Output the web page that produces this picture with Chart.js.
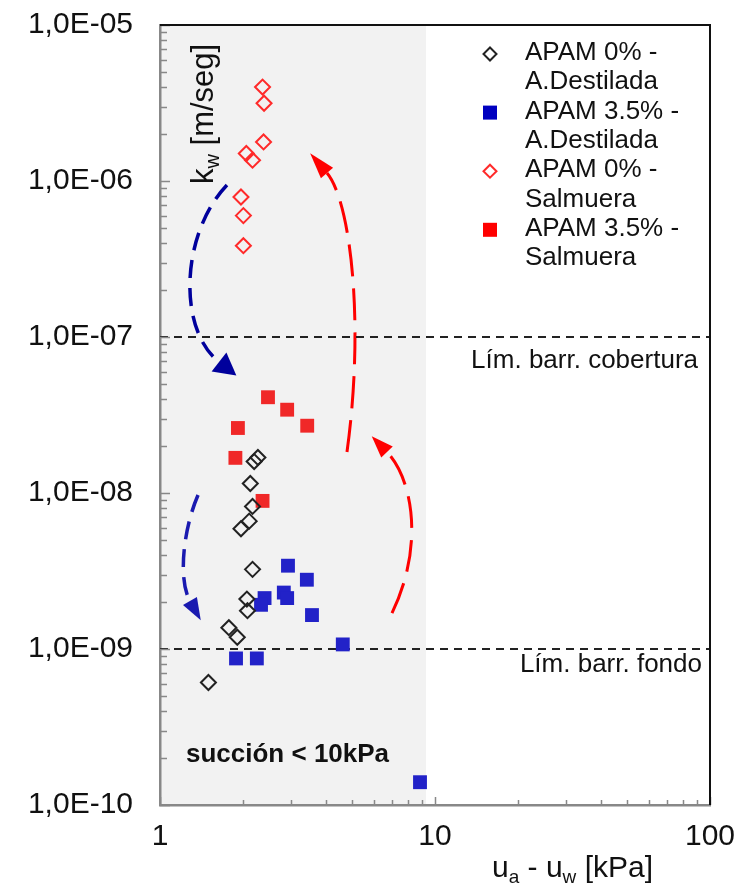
<!DOCTYPE html>
<html>
<head>
<meta charset="utf-8">
<script src="https://cdn.jsdelivr.net/npm/chart.js@4.4.1/dist/chart.umd.min.js"></script>
<style>
  html, body { margin: 0; padding: 0; background: #fff; }
  canvas { display: block; }
</style>
</head>
<body>
<canvas id="chart" width="753" height="886"></canvas>
<script>
// datos (succion kPa vs kw m/seg)
const apam0DestX = [2.27, 2.20, 2.13, 2.17, 2.11, 1.97, 2.17, 2.07, 2.08, 1.78, 1.91, 1.50];
const apam0DestY = [1.69e-8, 1.59e-8, 1.15e-8, 8.2e-9, 6.6e-9, 5.9e-9, 3.24e-9, 2.09e-9, 1.76e-9, 1.37e-9, 1.19e-9, 6.1e-10];

const apam35DestX = [2.92, 3.42, 2.40, 2.82, 2.90, 2.33, 3.57, 4.62, 1.89, 2.25, 8.82];
const apam35DestY = [3.42e-9, 2.78e-9, 2.12e-9, 2.30e-9, 2.12e-9, 1.92e-9, 1.65e-9, 1.07e-9, 8.7e-10, 8.7e-10, 1.40e-10];

const apam0SalX = [2.36, 2.39, 2.38, 2.06, 2.17, 1.97, 2.01, 2.01];
const apam0SalY = [4.0e-6, 3.15e-6, 1.78e-6, 1.5e-6, 1.36e-6, 7.9e-7, 6.0e-7, 3.85e-7];

const apam35SalX = [2.47, 2.90, 3.43, 1.92, 1.88, 2.36];
const apam35SalY = [4.11e-8, 3.42e-8, 2.70e-8, 2.61e-8, 1.68e-8, 8.9e-9];

const seriesNames = [
  ['APAM 0% -', 'A.Destilada'],
  ['APAM 3.5% -', 'A.Destilada'],
  ['APAM 0% -', 'Salmuera'],
  ['APAM 3.5% -', 'Salmuera']
];

const xTickValues = [1, 10, 100];
const xTickLabels = ['1', '10', '100'];
const yTickValues = [1e-10, 1e-9, 1e-8, 1e-7, 1e-6, 1e-5];
const yTickLabels = ['1,0E-10', '1,0E-09', '1,0E-08', '1,0E-07', '1,0E-06', '1,0E-05'];

// limites de barrera
const limCobertura = 1e-7;
const limFondo = 1e-9;
const shadeMaxX = 9.27;

// flechas (puntos de control en unidades de los ejes)
const arrowBlueTopX = [1.752, 1.182, 1.163, 1.639];
const arrowBlueTopY = [9.43e-7, 4.51e-7, 1.109e-7, 6.92e-8];
const arrowBlueLowX = [1.375, 1.212, 1.163, 1.285];
const arrowBlueLowY = [9.71e-9, 5.79e-9, 2.77e-9, 2.03e-9];
const arrowRedTopX = [4.786, 5.567, 4.909, 4.048];
const arrowRedTopY = [1.83e-8, 1.285e-7, 7.55e-7, 1.125e-6];
const arrowRedLowX = [6.976, 9.197, 8.249, 6.69];
const arrowRedLowY = [1.70e-9, 4.64e-9, 1.247e-8, 1.83e-8];

const FONT = '"Liberation Sans", Arial, sans-serif';

function toPoints(xs, ys) {
  return xs.map((x, i) => ({ x: x, y: ys[i] }));
}

function drawArrow(ctx, xs, ys, sx, sy, color, dash, width, headLen, headHalf) {
  const p = xs.map((v, i) => ({ x: sx.getPixelForValue(v), y: sy.getPixelForValue(ys[i]) }));
  ctx.save();
  ctx.strokeStyle = color;
  ctx.fillStyle = color;
  ctx.lineWidth = width;
  ctx.setLineDash(dash);
  ctx.beginPath();
  ctx.moveTo(p[0].x, p[0].y);
  ctx.bezierCurveTo(p[1].x, p[1].y, p[2].x, p[2].y, p[3].x, p[3].y);
  ctx.stroke();
  ctx.setLineDash([]);
  let dx = p[3].x - p[2].x, dy = p[3].y - p[2].y;
  const len = Math.hypot(dx, dy);
  dx /= len; dy /= len;
  const tipX = p[3].x + dx * headLen, tipY = p[3].y + dy * headLen;
  ctx.beginPath();
  ctx.moveTo(tipX, tipY);
  ctx.lineTo(p[3].x - dy * headHalf, p[3].y + dx * headHalf);
  ctx.lineTo(p[3].x + dy * headHalf, p[3].y - dx * headHalf);
  ctx.closePath();
  ctx.fill();
  ctx.restore();
}

const extras = {
  id: 'extras',
  beforeDraw(chart) {
    const { ctx, chartArea: a, scales: { x } } = chart;
    const x0 = x.getPixelForValue(1), x1 = x.getPixelForValue(shadeMaxX);
    ctx.save();
    ctx.fillStyle = '#f2f2f2';
    ctx.fillRect(x0, a.top, x1 - x0, a.bottom - a.top);
    ctx.restore();
  },
  beforeDatasetsDraw(chart) {
    const { ctx, scales: { x, y } } = chart;
    drawArrow(ctx, arrowBlueTopX, arrowBlueTopY, x, y, '#00009c', [18, 10], 3.5, 22, 12);
    drawArrow(ctx, arrowBlueLowX, arrowBlueLowY, x, y, '#1a1ab0', [18, 10], 3.5, 22, 8);
    drawArrow(ctx, arrowRedTopX, arrowRedTopY, x, y, '#ff0000', [32, 12], 3, 26, 8);
    drawArrow(ctx, arrowRedLowX, arrowRedLowY, x, y, '#ff0000', [32, 12], 3, 22, 8);
  },
  afterDraw(chart) {
    const { ctx, chartArea: a, scales: { x, y } } = chart;
    ctx.save();

    // marcas interiores de los ejes
    ctx.strokeStyle = '#888';
    ctx.lineWidth = 1.5;
    ctx.beginPath();
    for (let e = -10; e <= -5; e++) {
      for (let k = 1; k <= 9; k++) {
        const v = k * Math.pow(10, e);
        if (v > 1.0001e-5) break;
        const py = Math.round(y.getPixelForValue(v)) + 0.5;
        ctx.moveTo(a.left, py);
        ctx.lineTo(a.left + (k === 1 ? 10 : 7), py);
      }
    }
    for (let e = 0; e <= 2; e++) {
      for (let k = 1; k <= 9; k++) {
        const v = k * Math.pow(10, e);
        if (v > 100.01) break;
        const px = Math.round(x.getPixelForValue(v)) + 0.5;
        ctx.moveTo(px, a.bottom);
        ctx.lineTo(px, a.bottom - (k === 1 ? 8 : 5));
      }
    }
    ctx.stroke();

    // marco superior y derecho
    ctx.strokeStyle = '#111';
    ctx.lineWidth = 2;
    ctx.beginPath();
    ctx.moveTo(a.left, a.top);
    ctx.lineTo(a.right, a.top);
    ctx.lineTo(a.right, a.bottom);
    ctx.stroke();

    ctx.fillStyle = '#111';
    ctx.textBaseline = 'alphabetic';

    // titulo eje y
    ctx.save();
    ctx.translate(213, 184);
    ctx.rotate(-Math.PI / 2);
    ctx.textAlign = 'left';
    ctx.font = '31px ' + FONT;
    ctx.fillText('k', 0, 0);
    let w = ctx.measureText('k').width;
    ctx.font = '20px ' + FONT;
    ctx.fillText('w', w, 6);
    w += ctx.measureText('w').width;
    ctx.font = '31px ' + FONT;
    ctx.fillText(' [m/seg]', w, 0);
    ctx.restore();

    // titulo eje x
    let cx = 492;
    const by = 877;
    const parts = [['u', 30, 0], ['a', 19, 6], [' - u', 30, 0], ['w', 19, 6], [' [kPa]', 30, 0]];
    ctx.textAlign = 'left';
    parts.forEach(([t, s, off]) => {
      ctx.font = s + 'px ' + FONT;
      ctx.fillText(t, cx, by + off);
      cx += ctx.measureText(t).width;
    });

    // etiquetas de limites
    ctx.textAlign = 'right';
    ctx.font = '26px ' + FONT;
    ctx.fillText('Lím. barr. cobertura', 698, 368);
    ctx.fillText('Lím. barr. fondo', 702, 672);

    // zona de succion
    ctx.textAlign = 'left';
    ctx.font = 'bold 26px ' + FONT;
    ctx.fillText('succión < 10kPa', 186, 762);

    // leyenda
    const ds = chart.data.datasets;
    ctx.font = '26px ' + FONT;
    ctx.textBaseline = 'middle';
    let ly = 53;
    seriesNames.forEach((lines, i) => {
      const d = ds[i];
      const mx = 490, my = ly + 1;
      if (d.pointStyle === 'rect') {
        ctx.fillStyle = d.legendColor;
        ctx.fillRect(mx - 7, my - 7, 14, 14);
      } else {
        ctx.strokeStyle = d.borderColor;
        ctx.lineWidth = 2;
        ctx.beginPath();
        ctx.moveTo(mx, my - 6.5);
        ctx.lineTo(mx + 6.5, my);
        ctx.lineTo(mx, my + 6.5);
        ctx.lineTo(mx - 6.5, my);
        ctx.closePath();
        ctx.stroke();
      }
      ctx.fillStyle = '#111';
      lines.forEach((t) => {
        ctx.fillText(t, 525, ly);
        ly += 29.3;
      });
    });

    ctx.restore();
  }
};

const chartCanvas = document.getElementById('chart');

const chart = new Chart(chartCanvas, {
  type: 'scatter',
  data: {
    datasets: [
      {
        label: 'APAM 0% - A.Destilada',
        data: toPoints(apam0DestX, apam0DestY),
        pointStyle: 'rectRot',
        pointRadius: 7.5,
        backgroundColor: 'rgba(0,0,0,0)',
        borderColor: '#222',
        borderWidth: 2,
        order: 1
      },
      {
        label: 'APAM 3.5% - A.Destilada',
        data: toPoints(apam35DestX, apam35DestY),
        pointStyle: 'rect',
        pointRadius: 9.8,
        backgroundColor: '#2222c8',
        borderWidth: 0,
        legendColor: '#0000c0',
        order: 1
      },
      {
        label: 'APAM 0% - Salmuera',
        data: toPoints(apam0SalX, apam0SalY),
        pointStyle: 'rectRot',
        pointRadius: 7.5,
        backgroundColor: 'rgba(0,0,0,0)',
        borderColor: '#ff2a2a',
        borderWidth: 2,
        order: 1
      },
      {
        label: 'APAM 3.5% - Salmuera',
        data: toPoints(apam35SalX, apam35SalY),
        pointStyle: 'rect',
        pointRadius: 9.8,
        backgroundColor: '#f02828',
        borderWidth: 0,
        legendColor: '#ff0000',
        order: 1
      },
      {
        label: 'Lím. barr. cobertura',
        data: [{ x: 1, y: limCobertura }, { x: 100, y: limCobertura }],
        showLine: true,
        pointRadius: 0,
        borderColor: '#222',
        borderWidth: 2,
        borderDash: [8, 6],
        order: 2
      },
      {
        label: 'Lím. barr. fondo',
        data: [{ x: 1, y: limFondo }, { x: 100, y: limFondo }],
        showLine: true,
        pointRadius: 0,
        borderColor: '#222',
        borderWidth: 2,
        borderDash: [8, 6],
        order: 2
      }
    ]
  },
  options: {
    responsive: false,
    animation: false,
    events: [],
    layout: { padding: { top: 25, right: 43, left: 0, bottom: 0 } },
    plugins: {
      legend: { display: false },
      tooltip: { enabled: false }
    },
    scales: {
      x: {
        type: 'logarithmic',
        position: 'bottom',
        min: 1,
        max: 100,
        grid: { display: false, drawTicks: false },
        border: { display: true, color: '#888', width: 2.5 },
        afterBuildTicks: (s) => { s.ticks = xTickValues.map((v) => ({ value: v })); },
        afterFit: (s) => { s.height = 81; s.paddingLeft = 0; s.paddingRight = 0; },
        ticks: {
          autoSkip: false,
          maxRotation: 0,
          padding: 14,
          color: '#111',
          font: { family: FONT, size: 30 },
          callback: (v, i) => xTickLabels[i]
        }
      },
      y: {
        type: 'logarithmic',
        position: 'left',
        min: 1e-10,
        max: 1e-5,
        grid: { display: false, drawTicks: false },
        border: { display: true, color: '#888', width: 2.5 },
        afterBuildTicks: (s) => { s.ticks = yTickValues.map((v) => ({ value: v })); },
        afterFit: (s) => { s.width = 160; s.paddingTop = 0; s.paddingBottom = 0; },
        ticks: {
          autoSkip: false,
          padding: 27,
          color: '#111',
          font: { family: FONT, size: 30 },
          callback: (v, i) => yTickLabels[i]
        }
      }
    }
  },
  plugins: [extras]
});
</script>
</body>
</html>
